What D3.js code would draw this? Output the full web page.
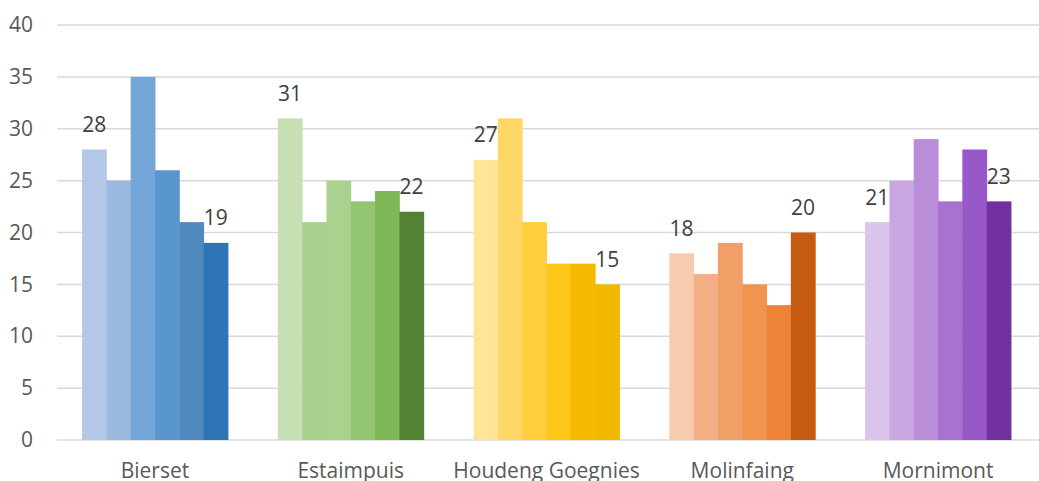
<!DOCTYPE html>
<html><head><meta charset="utf-8">
<script src="https://cdn.jsdelivr.net/npm/d3@7"></script>
<style>body{margin:0;background:#fff}svg{display:block}</style>
</head><body>
<svg id="c" width="1039" height="481"></svg>
<script>
const categories = ["Bierset","Estaimpuis","Houdeng Goegnies","Molinfaing","Mornimont"];
const values = [
  [28,25,35,26,21,19],
  [31,21,25,23,24,22],
  [27,31,21,17,17,15],
  [18,16,19,15,13,20],
  [21,25,29,23,28,23]
];
const palettes = [
  ["#B3C8E6","#9AB9DF","#74A6D8","#5896CC","#4F89BD","#2E75B6"],
  ["#C6E0B4","#A9D18E","#AAD18E","#93C572","#7DB756","#548235"],
  ["#FFE499","#FED766","#FECE3E","#FDC618","#F5BA00","#F2B800"],
  ["#F7CBAD","#F3B084","#F1A067","#F0944F","#ED8238","#C55A11"],
  ["#DAC4EB","#C9A7E0","#BA8DD8","#A972CF","#9858C7","#7030A0"]
];
const yTicks = [0,5,10,15,20,25,30,35,40];

(function(){
const svg = d3.select("#c");
const pLeft = 57, pRight = 1036, pTop = 25, pBottom = 440;
const x = d3.scaleBand().domain(categories).range([pLeft, pRight]).paddingInner(0.255).paddingOuter(0.128);
const y = d3.scaleLinear().domain([0,40]).range([pBottom, pTop]);
const xs = d3.scaleBand().domain(d3.range(6)).range([0, x.bandwidth()]);
const font = "Open Sans, sans-serif";

// gridlines
svg.append("g").selectAll("line").data(yTicks).join("line")
  .attr("x1", pLeft).attr("x2", 1039)
  .attr("y1", d => y(d)).attr("y2", d => y(d))
  .attr("stroke", "#d9d9d9").attr("stroke-width", 1.5);

// y axis labels
const yAxis = d3.axisLeft(y).tickValues(yTicks).tickSize(0).tickPadding(0);
const ga = svg.append("g").attr("transform", `translate(33,0)`).call(yAxis);
ga.select(".domain").remove();
ga.selectAll("text").attr("font-family",font).attr("font-size", 21).attr("fill","#595959");

// bars
const groups = svg.append("g").selectAll("g").data(categories).join("g")
  .attr("transform", d => `translate(${x(d)},0)`);
groups.each(function(cat, ci) {
  const g = d3.select(this);
  g.selectAll("rect").data(values[ci]).join("rect")
    .attr("x", (d,i) => xs(i)).attr("width", xs.bandwidth() + 0.5)
    .attr("y", d => y(d)).attr("height", d => y(0) - y(d))
    .attr("fill", (d,i) => palettes[ci][i]);
  const lab = [0,5];
  g.selectAll("text").data(lab).join("text")
    .attr("x", i => xs(i) + xs.bandwidth()/2)
    .attr("y", i => y(values[ci][i]) - 17.5)
    .attr("text-anchor","middle")
    .attr("font-family",font).attr("font-size", 21).attr("fill","#404040")
    .text(i => values[ci][i]);
});

// x axis labels
const xAxis = d3.axisBottom(x).tickSize(0).tickPadding(0);
const gx = svg.append("g").attr("transform", `translate(0,478)`).call(xAxis);
gx.select(".domain").remove();
gx.selectAll("text").attr("font-family",font).attr("font-size", 21).attr("fill","#595959").attr("dy","0");
})();
</script>
</body></html>
